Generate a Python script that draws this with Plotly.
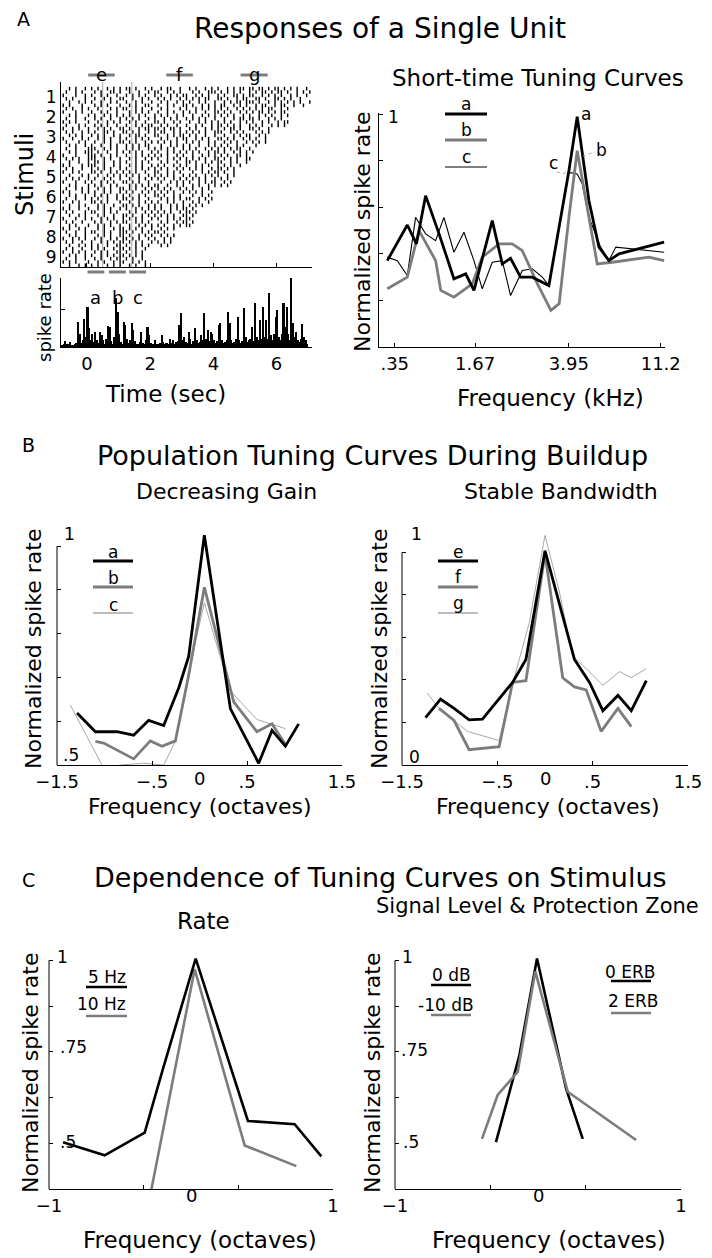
import plotly.graph_objects as go

# ======================= DATA =======================
# Panel A (left): spike raster, one string per trial row, 0.1-s bins from -0.8 s ('|' = spike)
raster_t0 = -0.8
raster_dt = 0.1
stim_labels = ["1", "2", "3", "4", "5", "6", "7", "8", "9"]
raster_stim = [
    [  # 1
        "..|.|..|.| .|..|.|.|. ||.|..|.|. .|.||..|.. |.|..|.|.| ..|.|.||.| |.||.|.||. |.|.|..|.",
        ".|..|.|... |.|..||.|. .|..|..|.| |..|.|.|.. .|.|..|||. |.|.|.|..| .|.||.|.|| .|..|.|.|",
        "|...|..|.| ..|.|..|.. |.|.|.|..| .|..|.|.|| ..|.|.|..| .|..||.|.| |..|.|.|.| ..|.|..|.",
        ".|.|...|.. |..|.|..|| ..|..|.|.. |.|.|..|.| .|.|.||..| |.|..|.||. .||.|..||. |.|..|...",
        "..|..|.|.| ..|..|.|.. |..|.|..|. .|.|..|.|. |..|.|..|. .|.|.||.|| |.|..|.|.| .|.|.|..|",
        "|.|...|... |.|.|...|. .|.|..||.. |..|.|..|| .|..|.|.|. ||..|.|.|. .|.||..|.| |..|..|..",
    ],
    [  # 2
        ".|.|..|.|. .|...|.|.| |..|.|..|. .|.|...|.| ..|.|.|.|. |.|..|.|.| .|.|.||..| .|",
        "|...|.|..| ..|.|..|.. .|.|.|.|.. |..|.|..|. |.|..|..|| .|.|..|.|. |.||.|.|.| |.",
        "..|.|...|. |..|.|.|.| .|..|.|..| .|.|..|.|. .|..|.|.|. |.|.|..|.| ..|.|.|..| .|",
        ".|..|..|.. |.|..|..|. |.|.|..|.| ..|.|.|..| .|.|.|..|. .|..|.||.| |.|..|.|.| .",
        "|.|.|...|. .|..|.|.|. .|.|..|..| |.|..|.|.. |..|.|.|.| .|.|..|.|. |..|.|..|. ||",
        ".|...|.|.. |.|.|..|.. |..|.|.||. .|.|..|..| ..|.|..|.| |.|.|.|..| .|.|..|.|. |",
    ],
    [  # 3
        "|..|.|..|. .|.|.|..|| .|..|.||.| |.|.||.|.. |.|..|.|.| .|.||.|..| |.|..|",
        ".|.|..|.|. |..||.|..| |.|.|..|.| .||..|.|.| .|.|.|..|| |..|.|.|.. .|.|.|",
        "..|.|.|..| .|.|..|.|. .|.||.|..| |..|.|.||. |.|..|..|. .|..|.|.|| ..|.|.",
        "|..|..|.|. .|.|.|..|. |..|.|.|.. .|.|..|.|| ..|.|.|..| |.|.|..|.| .|..|.",
        ".|...|.|.. |..|.|..|| .|.|..|.|. |.|.|.|..| .|.|..|.|. .|.|.|..|. |.|.|",
        "..|.|..|.| ..|..|.|.. |.|.|.||.. .|..|.|.|. |..|..|.|. |.|..|.|.. .|..",
    ],
    [  # 4
        ".|..|...|| |..|.|.|.. |.|.|..|.| .|.|.|..|. |.|..|.|.| .|.|.||..| .",
        "..|.|..||| .|..|..|.| .|.|.|..|. |..|.|.|.| .|.|..|.|| .|..|.|.|. |",
        "|...|...|| |.|..|.|.. |..|.|.|.| .|.|..|.|. .|..|.|.|. |.|..||.|. .",
        ".|.|.|..|| |..|.|..|. .|.|..|.|. |..|.|.|.| .|.|.|..|| .|.|.|..||",
        "..|..|..|. ||.|..|.|. |..|.|.|.. .|.|..|..| |.|..|.|.| |..|.|..|.",
        "|.|...|.|| |..|..|.|. .|.|.|..|. |.|..|.|.| ..|.|.|..| .|.|..|..",
    ],
    [  # 5
        ".|.|..|..| .|.|.|..|. |..|.|.|.| .|.|..|.|. |.|.|..|.| |.|.|",
        "|..|.|...| |.|..|.|.| .|.|..|..| |..|.|.|.. .|..|.|.|| .|..|",
        "..|...|.|. .|..|.|.|. |.|.|..|.| .|.|.|..|. |.|..|.|.| ..|.|",
        ".|.|.|..|. |..|.|..|. .|..|.|.|. |.|..|.|.| .|.|.|..|. |.|.",
        "|...|..|.| ..|.|.|..| |.|.|..|.. .|..|.|.|. |..|.|.||. .|.|.",
        "..|.|...|. |.|..|.|.. .|.|.|.|.| |..|..|.|. .|.|..|.|. |.|",
    ],
    [  # 6
        ".|..|.|.|. .|.|.|..|| .|.|..|.|. |.|.|..|.| .|..|.|.",
        "|.|...|.|. |..|.|..|. |.|..|.|.| .|.|.|..|. |.|.|..|",
        "..|.|..|.. |.|.|..|.| .|..|.|..| |.|..|.|.. .|..|.|.",
        ".|..|..|.| .|..|..|.| |.|.|..|.. .|.|.|.|.| |..|.|.|",
        "|..|.|...| |.|.|...|. .|..|.|.|. |..|.|..|. .|.|..|.",
        "..|..|.|.. .|.|..|..| |.|.|..|.| .|..|.|.|. |.|.|.",
    ],
    [  # 7
        "|.|..|..|. .|.|.|..|. |..|.|.|.| .|..|.|.|| .|.",
        ".|.|...|.| |..|.|.|.. .|.|..|.|. |.|.|..|.| |.|",
        "..|..|.|.. .|.|..|..| |.|..|.|.| .|.|.|..|| .|..",
        "|...|..|.| ..|.|.|..| .|.|.|..|. |..|.|.|.| |.",
        ".|.|..|... |.|..|.|.| |..|.|.|.. .|.|..|.|| .|.",
        "..|.|...|. .|.|.|..|. .|..|.|.|. |.|..|.|.| |",
    ],
    [  # 8
        "|.|..|.|.. .|.|..|.|| .|.|.|..|. .|.|.|",
        ".|..|..|.| |..|.|..|| |.|..|.|.| |.|..",
        "..|.|..|.. .|.|.|..|| .|..|.|.|. .|.|.|",
        "|..|.|.|.. |.|..|.|.| |.|.|..|.| ..|.|",
        ".|.|..|..| ..|.|.|.|| .|.|.|..|. |.|.|.",
        "..|..|.|.| .|..|..||. |..|.|.|.. .|.|",
    ],
    [  # 9
        ".|.|..|..| .|.|..|.|| .|.|..|",
        "|..|.|.|.. |.|.|..||. |..|.|.",
        "..|.|..|.| ..|.|.|.|| .|.|.|",
        ".|..|..|.. |.|..|.||. |.|..|.",
        "|.|.|...|. .|.|..|.|| ..|.|.|",
        "..|..|.|.| .|..|.|.|. .|.|..|",
    ],
]
raster_marks_t = [0.5, 1.42]          # thin gray vertical lines
win_efg_labels = ["e", "f", "g"]
win_efg_start = [0.04, 2.51, 4.86]
win_efg_end = [0.88, 3.35, 5.72]
win_abc_labels = ["a", "b", "c"]
win_abc_start = [0.02, 0.70, 1.34]
win_abc_end = [0.55, 1.23, 1.87]

# Panel A: PSTH (0.05-s bins starting at -0.8 s)
hist_t0 = -0.8
hist_dt = 0.05
hist_rate = [
    5, 8, 18, 10, 8, 15, 6, 5, 8, 12, 75, 40, 12, 20, 82, 30,
    120, 55, 20, 40, 15, 45, 22, 12, 45, 35, 20, 10, 25, 62, 60, 18, 8, 30, 147, 105,
    40, 15, 10, 75, 65, 25, 12, 20, 70, 50, 18, 10, 8, 15, 45, 12, 10, 20, 58, 35,
    12, 8, 10, 20, 10, 8, 12, 35, 15, 10, 12, 8, 25, 12, 20, 10, 15, 18, 65, 102,
    20, 30, 15, 12, 45, 25, 10, 18, 55, 20, 12, 15, 35, 20, 100, 25, 50, 18, 45, 40,
    20, 12, 18, 65, 70, 20, 12, 15, 20, 105, 70, 20, 12, 15, 25, 90, 20, 12, 18, 115,
    30, 15, 20, 25, 60, 18, 130, 30, 20, 80, 25, 120, 30, 80, 25, 160, 35, 20, 40, 90,
    110, 30, 20, 40, 130, 60, 120, 40, 20, 205, 70, 30, 45, 20, 15, 25, 68, 30, 20, 10,
]
time_ticks = [0, 2, 4, 6]

# Panel A (right): short-time tuning curves (x = channel position, 0-100 along axis)
st_ticks = [5.5, 33.6, 66.4, 98.5]
st_ticklabels = [".35", "1.67", "3.95", "11.2"]
sta_x = [2.9, 9.9, 13.1, 16.3, 21.0, 26.2, 30.3, 33.2, 39.6, 43.1, 46.0, 49.5, 53.6, 59.4,
         66.4, 69.3, 73.4, 76.9, 80.4, 83.9, 99.7]
sta_y = [.371, .524, .443, .650, .486, .293, .314, .243, .543, .357, .381, .300, .300, .264,
         .757, .989, .629, .429, .371, .400, .450]
stb_x = [2.9, 9.9, 14.0, 19.8, 21.6, 26.2, 32.6, 36.1, 42.0, 46.6, 50.1, 55.4, 60.1, 63.0,
         66.4, 69.3, 73.4, 76.3, 81.6, 94.4, 99.7]
stb_y = [.250, .300, .500, .371, .243, .214, .271, .386, .443, .443, .414, .271, .157, .186,
         .557, .843, .557, .357, .364, .386, .371]
stc_x = [2.9, 6.4, 9.9, 12.8, 16.3, 19.8, 22.7, 26.2, 29.7, 33.2, 36.1, 39.6, 43.1, 46.0,
         50.1, 53.6, 57.1, 59.4, 66.4, 69.3, 71.1, 73.4, 77.5, 80.4, 82.8, 88.6, 99.7]
stc_y = [.386, .371, .307, .557, .486, .457, .557, .407, .493, .371, .250, .364, .371, .221,
         .329, .336, .300, .264, .750, .743, .700, .557, .429, .371, .429, .421, .407]

# Panel B (left): decreasing gain, windows a, b, c
ga_x = [-1.289, -1.096, -0.868, -0.693, -0.535, -0.377, -0.219, -0.114, 0.051, 0.325, 0.623, 0.763, 0.904, 1.044]
ga_y = [.619, .576, .576, .568, .602, .590, .676, .748, 1.025, .629, .504, .579, .543, .594]
gb_x = [-1.096, -1.009, -0.693, -0.518, -0.395, -0.254, -0.114, 0.051, 0.360, 0.605, 0.763, 0.904]
gb_y = [.554, .550, .514, .555, .543, .555, .705, .906, .644, .576, .594, .547]
gc_x = [-1.360, -1.009, -0.833, -0.588, -0.377, -0.254, -0.114, 0.051, 0.325, 0.605, 0.904]
gc_y = [.637, .493, .500, .504, .500, .554, .712, .871, .669, .604, .583]

# Panel B (right): stable bandwidth, windows e, f, g
be_x = [-1.253, -1.095, -0.954, -0.796, -0.656, -0.340, -0.200, 0.0, 0.309, 0.467, 0.607, 0.765, 0.905, 1.063]
be_y = [.223, .309, .266, .212, .216, .388, .496, 1.007, .496, .388, .255, .327, .255, .396]
bf_x = [-1.112, -0.954, -0.796, -0.481, -0.340, -0.200, 0.0, 0.186, 0.309, 0.432, 0.589, 0.765, 0.905]
bf_y = [.266, .209, .072, .086, .388, .396, .993, .410, .367, .353, .158, .266, .180]
bg_x = [-1.235, -1.112, -0.814, -0.481, -0.340, -0.165, 0.0, 0.151, 0.291, 0.432, 0.607, 0.782, 0.905, 1.063]
bg_y = [.338, .266, .158, .115, .381, .669, 1.079, .813, .511, .453, .374, .439, .410, .453]

# Panel C (left): rate
r5_x = [-0.901, -0.608, -0.326, -0.197, 0.033, 0.401, 0.730, 0.918]
r5_y = [.503, .467, .529, .704, 1.005, .561, .552, .464]
r10_x = [-0.293, 0.026, 0.378, 0.742]
r10_y = [.346, .976, .494, .4375]

# Panel C (right): signal level & protection zone
l0_x = [-0.294, -0.131, -0.007, 0.196, 0.313]
l0_y = [.503, .739, 1.005, .650, .512]
l10_x = [-0.392, -0.282, -0.142, -0.019, 0.208, 0.686]
l10_y = [.512, .632, .695, .970, .641, .509]

# ======================= STYLE / LAYOUT =======================
W, H = 712, 1258
FONT = "DejaVu Sans"
BLACK = "#000000"
GRAY = "#7c7c7c"
LGRAY = "#a8a8a8"


def px_x(p):
    return p / W


def px_y(p):
    return 1 - p / H


fig = go.Figure()

# axis boxes in pixels: (left, right, top, bottom)
boxes = {
    1: (61, 312, 82, 267),     # raster
    2: (61, 312, 278, 347),    # psth
    3: (379, 665, 113, 347),   # short-time tuning
    4: (57, 342, 533, 765),    # decreasing gain
    5: (402, 688, 533, 765),   # stable bandwidth
    6: (49, 333, 956, 1189),   # rate
    7: (395, 681, 956, 1189),  # level
}

TICK = 18
tickfont = dict(family=FONT, size=TICK, color=BLACK)
base = dict(showgrid=False, zeroline=False, showline=True, linecolor=BLACK, linewidth=1,
            ticks="inside", ticklen=4, tickcolor=BLACK, tickwidth=1, tickfont=tickfont,
            mirror=False, fixedrange=True, automargin=False)

layout_axes = {}
for k, (l, r, t, b) in boxes.items():
    xs = "xaxis" if k == 1 else f"xaxis{k}"
    ys = "yaxis" if k == 1 else f"yaxis{k}"
    layout_axes[xs] = dict(base, domain=[px_x(l), px_x(r)], anchor="y" if k == 1 else f"y{k}")
    layout_axes[ys] = dict(base, domain=[px_y(b), px_y(t)], anchor="x" if k == 1 else f"x{k}")

time_range = [-0.82, 7.12]
layout_axes["xaxis"].update(range=time_range, tickvals=time_ticks, showticklabels=False)
layout_axes["yaxis"].update(range=[9.5, 0.25], tickvals=list(range(1, 10)), ticktext=stim_labels,
                            ticks="", tickfont=dict(family=FONT, size=17, color=BLACK))
layout_axes["xaxis2"].update(range=time_range, tickvals=time_ticks,
                             ticktext=[str(v) for v in time_ticks])
layout_axes["yaxis2"].update(range=[0, 205], tickvals=[112], showticklabels=False)

layout_axes["xaxis3"].update(range=[0, 100], tickvals=st_ticks, ticktext=st_ticklabels)
layout_axes["yaxis3"].update(range=[0, 1.005], tickvals=[0, .2, .4, .6, .8, 1.0], showticklabels=False)

btick = [-1.5, -0.5, 0.5, 1.5]
btext = ["\u22121.5", "\u2212.5", ".5", "1.5"]
for k in (4, 5):
    layout_axes[f"xaxis{k}"].update(range=[-1.5, 1.5], tickvals=btick, ticktext=btext)
layout_axes["yaxis4"].update(range=[0.5, 1.03], tickvals=[.5, .6, .7, .8, .9, 1.0],
                             showticklabels=False, showline=False)
layout_axes["yaxis5"].update(range=[0, 1.09], tickvals=[0, .2, .4, .6, .8, 1.0],
                             showticklabels=False, showline=False)
ctick = [-1, -1 / 3, 1 / 3, 1]
for k in (6, 7):
    layout_axes[f"xaxis{k}"].update(range=[-1, 1], tickvals=ctick, ticktext=["\u22121", "", "", "1"])
    layout_axes[f"yaxis{k}"].update(range=[0.375, 1.012], tickvals=[.375, .5, .625, .75, .875, 1.0],
                                    showticklabels=False, showline=False)

# ---------- raster ----------
rx, ry = [], []
for si, rows in enumerate(raster_stim):
    n = len(rows)
    for ri, row in enumerate(rows):
        s = row.replace(" ", "")
        for bi, ch in enumerate(s):
            if ch == "|":
                rx.append(raster_t0 + (bi + 0.5) * raster_dt)
                ry.append(si + 1 - 0.5 + (ri + 0.5) / n)
fig.add_trace(go.Scatter(x=rx, y=ry, mode="markers", xaxis="x", yaxis="y",
                         marker=dict(symbol="line-ns", size=2.6, color=BLACK,
                                     line=dict(width=1.4, color=BLACK)),
                         hoverinfo="skip", showlegend=False))

# ---------- psth ----------
hx = [hist_t0 + (i + 0.5) * hist_dt for i in range(len(hist_rate))]
fig.add_trace(go.Bar(x=hx, y=hist_rate, width=hist_dt, xaxis="x2", yaxis="y2",
                     marker=dict(color=BLACK, line=dict(width=0)), showlegend=False))


def line(x, y, ax, color, width, dash="solid"):
    fig.add_trace(go.Scatter(x=x, y=y, mode="lines", xaxis=f"x{ax}", yaxis=f"y{ax}",
                             line=dict(color=color, width=width, dash=dash),
                             hoverinfo="skip", showlegend=False))


# short-time tuning
line(stc_x, stc_y, 3, BLACK, 1.1)
line(stb_x, stb_y, 3, GRAY, 2.8)
line(sta_x, sta_y, 3, BLACK, 2.8)
# B left
line(gc_x, gc_y, 4, LGRAY, 1.0)
line(gb_x, gb_y, 4, GRAY, 2.8)
line(ga_x, ga_y, 4, BLACK, 2.8)
# B right
line(bg_x, bg_y, 5, LGRAY, 1.0)
line(bf_x, bf_y, 5, GRAY, 2.8)
line(be_x, be_y, 5, BLACK, 2.8)
# C left
line(r10_x, r10_y, 6, GRAY, 2.6)
line(r5_x, r5_y, 6, BLACK, 2.6)
# C right
line(l0_x, l0_y, 7, BLACK, 2.6)
line(l10_x, l10_y, 7, GRAY, 2.6)

# ---------- shapes ----------
shapes = []
# analysis windows over / under the raster
for s0, s1 in zip(win_efg_start, win_efg_end):
    shapes.append(dict(type="line", xref="x", yref="paper", x0=s0, x1=s1, y0=px_y(75), y1=px_y(75),
                       line=dict(color=GRAY, width=3)))
for s0, s1 in zip(win_abc_start, win_abc_end):
    shapes.append(dict(type="line", xref="x", yref="paper", x0=s0, x1=s1, y0=px_y(272), y1=px_y(272),
                       line=dict(color=GRAY, width=3)))
for t in raster_marks_t:
    shapes.append(dict(type="line", xref="x", yref="y domain", x0=t, x1=t, y0=0, y1=1,
                       line=dict(color=LGRAY, width=1)))
# y axis lines ending at the top tick
for k, (lo, hi) in {4: (0.5, 1.0), 5: (0.0, 1.0), 6: (0.375, 1.0), 7: (0.375, 1.0)}.items():
    shapes.append(dict(type="line", xref=f"x{k} domain", yref=f"y{k}", x0=0, x1=0, y0=lo, y1=hi,
                       line=dict(color=BLACK, width=1)))


def legline(x0, x1, y, color, width):
    shapes.append(dict(type="line", xref="paper", yref="paper", x0=px_x(x0), x1=px_x(x1),
                       y0=px_y(y), y1=px_y(y), line=dict(color=color, width=width)))


# legends
legline(445, 487, 114, BLACK, 3)
legline(445, 487, 140, GRAY, 3)
legline(445, 487, 167, BLACK, 1)
legline(93, 133, 561, BLACK, 3)
legline(93, 133, 587, GRAY, 3)
legline(93, 133, 613, GRAY, 1)
legline(438, 478, 561, BLACK, 3)
legline(438, 478, 587, GRAY, 3)
legline(438, 478, 613, GRAY, 1)
legline(86, 127, 987, BLACK, 2.5)
legline(86, 127, 1016, GRAY, 2.5)
legline(431, 471, 985, BLACK, 2.5)
legline(431, 471, 1015, GRAY, 2.5)
legline(611, 651, 981, BLACK, 2.5)
legline(611, 651, 1013, GRAY, 2.5)
# dotted pointers for peak labels a/b/c
shapes.append(dict(type="line", xref="paper", yref="paper", x0=px_x(557), x1=px_x(569),
                   y0=px_y(172), y1=px_y(174), line=dict(color=LGRAY, width=1, dash="dot")))
shapes.append(dict(type="line", xref="paper", yref="paper", x0=px_x(583), x1=px_x(595),
                   y0=px_y(156), y1=px_y(152), line=dict(color=LGRAY, width=1, dash="dot")))

# ---------- text ----------
ann = []


def txt(s, x, y, size, angle=0, xanchor="center"):
    ann.append(dict(text=s, x=px_x(x), y=px_y(y), xref="paper", yref="paper", showarrow=False,
                    xanchor=xanchor, yanchor="middle", textangle=angle,
                    font=dict(family=FONT, size=size, color=BLACK)))


TITLE = 27
SUB = 22
AX = 22
SMALL = 17

txt("A", 23, 19, 19)
txt("Responses of a Single Unit", 380, 28, TITLE + 1)
for lab, s0, s1 in zip(win_efg_labels, win_efg_start, win_efg_end):
    ann.append(dict(text=lab, x=(s0 + s1) / 2, y=px_y(62), xref="x", yref="paper", showarrow=False,
                    font=dict(family=FONT, size=SMALL + 1, color=BLACK)))
for lab, s0, s1 in zip(win_abc_labels, win_abc_start, win_abc_end):
    ann.append(dict(text=lab, x=(s0 + s1) / 2, y=px_y(285), xref="x", yref="paper", showarrow=False,
                    font=dict(family=FONT, size=SMALL + 1, color=BLACK)))
txt("Stimuli", 25, 175, 24, -90)
txt("spike rate", 44, 318, 18, -90)
txt("Time (sec)", 165, 394, AX + 1)

txt("Short-time Tuning Curves", 538, 78, SUB + 1)
txt("Normalized spike rate", 363, 232, AX, -90)
txt("Frequency (kHz)", 550, 398, AX + 1)
txt("1", 393, 117, SMALL)
txt("a", 466, 104, SMALL)
txt("b", 466, 130, SMALL)
txt("c", 466, 157, SMALL)
txt("a", 586, 114, SMALL)
txt("b", 601, 150, SMALL)
txt("c", 553, 163, SMALL)

txt("B", 28, 445, 19)
txt("Population Tuning Curves During Buildup", 372, 455, TITLE)
txt("Decreasing Gain", 227, 492, SUB)
txt("Stable Bandwidth", 561, 492, SUB)
txt("Normalized spike rate", 33, 649, AX, -90)
txt("Normalized spike rate", 379, 649, AX, -90)
txt("Frequency (octaves)", 200, 806, AX)
txt("Frequency (octaves)", 548, 806, AX)
txt("1", 69, 534, SMALL)
txt(".5", 71, 755, SMALL)
txt("1", 416, 534, SMALL)
txt("0", 414, 757, SMALL)
txt("a", 113, 552, SMALL)
txt("b", 113, 578, SMALL)
txt("c", 113, 605, SMALL)
txt("e", 458, 552, SMALL)
txt("f", 458, 577, SMALL)
txt("g", 458, 603, SMALL)
for k in (4, 5):
    ann.append(dict(text="0", x=0, y=px_y(778), xref=f"x{k}", yref="paper", showarrow=False,
                    font=dict(family=FONT, size=TICK, color=BLACK)))

txt("C", 28, 880, 19)
txt("Dependence of Tuning Curves on Stimulus", 380, 877, TITLE)
txt("Rate", 203, 921, SUB + 1)
txt("Signal Level & Protection Zone", 537, 906, SUB - 1)
txt("Normalized spike rate", 30, 1073, AX, -90)
txt("Normalized spike rate", 372, 1073, AX, -90)
txt("Frequency (octaves)", 200, 1240, AX + 1)
txt("Frequency (octaves)", 549, 1240, AX + 1)
for k in (6, 7):
    ann.append(dict(text="0", x=0, y=px_y(1208), xref=f"x{k}", yref="paper", showarrow=False,
                    font=dict(family=FONT, size=TICK, color=BLACK)))
txt("1", 62, 957, SMALL)
txt(".75", 73, 1047, SMALL)
txt(".5", 68, 1142, SMALL)
txt("1", 408, 957, SMALL)
txt(".75", 414, 1050, SMALL)
txt(".5", 411, 1142, SMALL)
txt("5 Hz", 107, 977, SMALL)
txt("10 Hz", 102, 1004, SMALL)
txt("0 dB", 451, 975, SMALL)
txt("-10 dB", 446, 1005, SMALL)
txt("0 ERB", 630, 972, SMALL)
txt("2 ERB", 633, 1001, SMALL)

fig.update_layout(width=W, height=H, margin=dict(l=0, r=0, t=0, b=0, pad=0, autoexpand=False),
                  autosize=False, paper_bgcolor="white", plot_bgcolor="white", bargap=0,
                  font=dict(family=FONT, color=BLACK), shapes=shapes, annotations=ann,
                  showlegend=False, **layout_axes)
fig.write_html("out.html", config={"displayModeBar": False},
               post_script="document.body.style.margin='0px';document.body.style.padding='0px';")
